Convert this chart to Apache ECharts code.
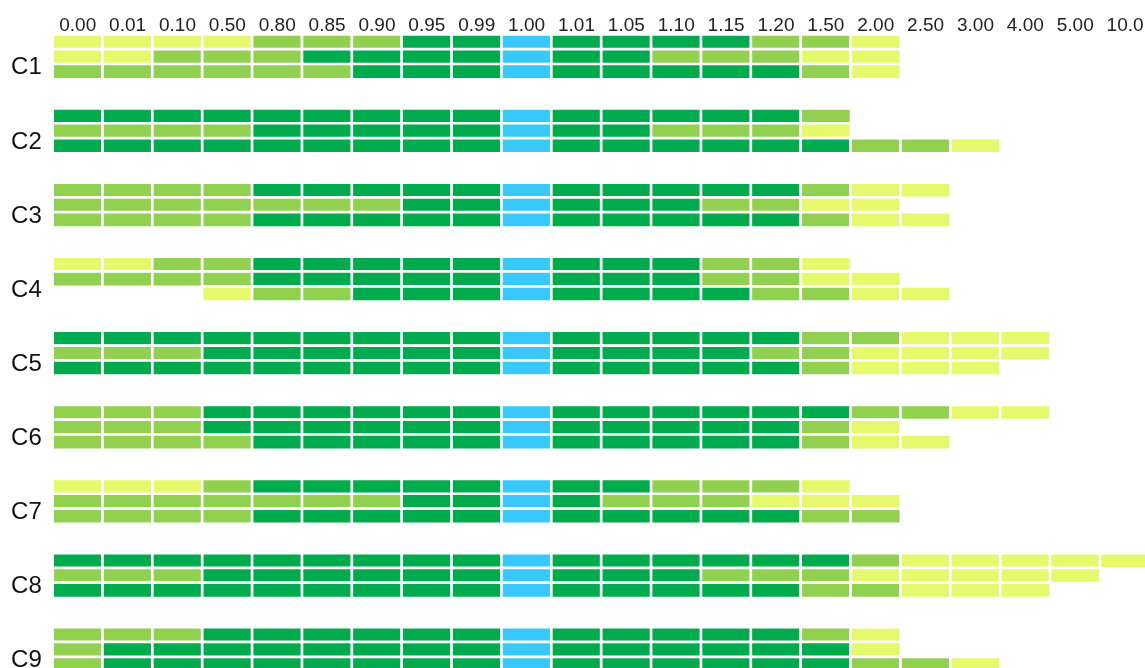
<!DOCTYPE html>
<html>
<head>
<meta charset="utf-8">
<script src="https://cdn.jsdelivr.net/npm/echarts@6/dist/echarts.min.js"></script>
<style>
  html, body { margin: 0; padding: 0; background: #ffffff; }
  #chart { width: 1145px; height: 668px; }
</style>
</head>
<body>
<div id="chart"></div>
<script>
// Threshold columns
const thresholds = ['0.00', '0.01', '0.10', '0.50', '0.80', '0.85', '0.90', '0.95', '0.99', '1.00',
  '1.01', '1.05', '1.10', '1.15', '1.20', '1.50', '2.00', '2.50', '3.00', '4.00', '5.00', '10.0'];

// Row groups
const groups = ['C1', 'C2', 'C3', 'C4', 'C5', 'C6', 'C7', 'C8', 'C9'];

// Cell levels: 0 = empty, 1 = low, 2 = medium, 3 = high, 4 = reference column (1.00)
const c1 = [
  [1,1,1,1,2,2,2,3,3,4,3,3,3,3,2,2,1,0,0,0,0,0],
  [1,1,2,2,2,3,3,3,3,4,3,3,2,2,2,1,1,0,0,0,0,0],
  [2,2,2,2,2,2,3,3,3,4,3,3,3,3,3,2,1,0,0,0,0,0]
];
const c2 = [
  [3,3,3,3,3,3,3,3,3,4,3,3,3,3,3,2,0,0,0,0,0,0],
  [2,2,2,2,3,3,3,3,3,4,3,3,2,2,2,1,0,0,0,0,0,0],
  [3,3,3,3,3,3,3,3,3,4,3,3,3,3,3,3,2,2,1,0,0,0]
];
const c3 = [
  [2,2,2,2,3,3,3,3,3,4,3,3,3,3,3,2,1,1,0,0,0,0],
  [2,2,2,2,2,2,2,3,3,4,3,3,3,2,2,1,1,0,0,0,0,0],
  [2,2,2,2,3,3,3,3,3,4,3,3,3,3,3,2,1,1,0,0,0,0]
];
const c4 = [
  [1,1,2,2,3,3,3,3,3,4,3,3,3,2,2,1,0,0,0,0,0,0],
  [2,2,2,2,3,3,3,3,3,4,3,3,3,2,2,1,1,0,0,0,0,0],
  [0,0,0,1,2,2,3,3,3,4,3,3,3,3,2,2,1,1,0,0,0,0]
];
const c5 = [
  [3,3,3,3,3,3,3,3,3,4,3,3,3,3,3,2,2,1,1,1,0,0],
  [2,2,2,3,3,3,3,3,3,4,3,3,3,3,2,2,1,1,1,1,0,0],
  [3,3,3,3,3,3,3,3,3,4,3,3,3,3,3,2,1,1,1,0,0,0]
];
const c6 = [
  [2,2,2,3,3,3,3,3,3,4,3,3,3,3,3,3,2,2,1,1,0,0],
  [2,2,2,3,3,3,3,3,3,4,3,3,3,3,3,2,1,0,0,0,0,0],
  [2,2,2,2,3,3,3,3,3,4,3,3,3,3,3,2,1,1,0,0,0,0]
];
const c7 = [
  [1,1,1,2,3,3,3,3,3,4,3,3,2,2,2,1,0,0,0,0,0,0],
  [2,2,2,2,2,2,2,3,3,4,3,2,2,2,1,1,1,0,0,0,0,0],
  [2,2,2,2,3,3,3,3,3,4,3,3,3,3,3,2,2,0,0,0,0,0]
];
const c8 = [
  [3,3,3,3,3,3,3,3,3,4,3,3,3,3,3,3,2,1,1,1,1,1],
  [2,2,2,3,3,3,3,3,3,4,3,3,3,2,2,2,1,1,1,1,1,0],
  [3,3,3,3,3,3,3,3,3,4,3,3,3,3,3,2,2,1,1,1,0,0]
];
const c9 = [
  [2,2,2,3,3,3,3,3,3,4,3,3,3,3,3,2,1,0,0,0,0,0],
  [2,3,3,3,3,3,3,3,3,4,3,3,3,3,3,3,1,0,0,0,0,0],
  [2,3,3,3,3,3,3,3,3,4,3,3,3,3,3,3,2,2,1,0,0,0]
];

const groupRows = [c1, c2, c3, c4, c5, c6, c7, c8, c9];

// Each group takes five rows on the y axis: three rows of cells and two spacer rows
const SLOTS = 5;
const yCats = [];
groups.forEach(g => { for (let k = 0; k < SLOTS; k++) yCats.push(g + '_' + k); });

const cells = [];
groupRows.forEach((rows, g) => {
  rows.forEach((row, r) => {
    row.forEach((v, x) => { if (v) cells.push([x, g * SLOTS + r, v]); });
  });
});

const rowPitch = 14.82;
const colPitch = 49.875;

const chart = echarts.init(document.getElementById('chart'), null, { renderer: 'canvas' });
chart.setOption({
  animation: false,
  backgroundColor: '#ffffff',
  grid: {
    left: 52.8,
    top: 34.6,
    width: colPitch * thresholds.length,
    height: rowPitch * yCats.length,
    outerBoundsMode: 'none',
    containLabel: false
  },
  xAxis: {
    type: 'category',
    position: 'top',
    data: thresholds,
    axisLine: { show: false },
    axisTick: { show: false },
    splitLine: { show: false },
    axisLabel: {
      interval: 0,
      margin: -1,
      color: '#222222',
      fontFamily: 'Liberation Sans, Arial, sans-serif',
      fontSize: 19
    }
  },
  yAxis: {
    type: 'category',
    inverse: true,
    data: yCats,
    axisLine: { show: false },
    axisTick: { show: false },
    splitLine: { show: false },
    axisLabel: {
      interval: 0,
      margin: 11,
      color: '#111111',
      fontFamily: 'Liberation Sans, Arial, sans-serif',
      fontSize: 24,
      verticalAlign: 'top',
      lineHeight: 22,
      formatter: (val, idx) => (idx % SLOTS === 1 ? groups[Math.floor(idx / SLOTS)] : '')
    }
  },
  visualMap: {
    show: false,
    type: 'piecewise',
    dimension: 2,
    pieces: [
      { value: 1, color: '#e6f86b' },
      { value: 2, color: '#92d050' },
      { value: 3, color: '#00ab4e' },
      { value: 4, color: '#38c8fb' }
    ]
  },
  series: [{
    type: 'heatmap',
    data: cells,
    itemStyle: { borderColor: '#ffffff', borderWidth: 2.7 },
    emphasis: { disabled: true }
  }]
});
</script>
</body>
</html>
